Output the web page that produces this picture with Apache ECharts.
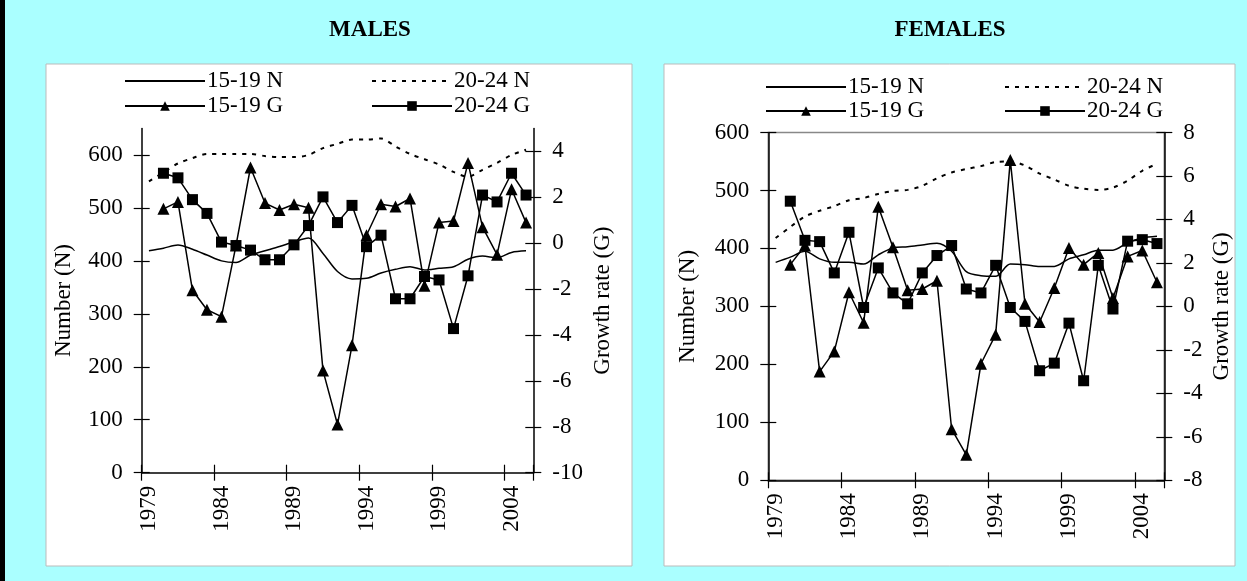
<!DOCTYPE html>
<html>
<head>
<meta charset="utf-8">
<script src="https://cdn.jsdelivr.net/npm/echarts@6/dist/echarts.min.js"></script>
<style>
  html, body { margin: 0; padding: 0; background: #aaffff; }
  #chart { width: 1247px; height: 581px; }
</style>
</head>
<body>
<div id="chart"></div>
<script>
// years on the x axis
var years = ['1979','1980','1981','1982','1983','1984','1985','1986','1987','1988','1989','1990','1991','1992',
    '1993','1994','1995','1996','1997','1998','1999','2000','2001','2002','2003','2004','2005'];

// males
var maleN1519 = [419,424,430,422,411,400,397,411,419,427,436,443,414,380,366,367,377,384,389,383,386,389,403,409,406,416,419];
var maleN2024 = [550,567,584,594,602,602,602,602,598,596,596,600,613,621,629,629,631,616,602,592,582,568,559,572,585,600,610];
var maleG1519 = ['-',1.5,1.8,-2.05,-2.9,-3.2,-0.1,3.3,1.75,1.45,1.7,1.55,-5.55,-7.9,-4.45,0.35,1.7,1.6,1.95,-1.85,0.9,0.97,3.5,0.7,-0.5,2.35,0.9];
var maleG2024 = ['-',3.05,2.85,1.9,1.3,0.05,-0.1,-0.3,-0.72,-0.72,-0.07,0.77,2.02,0.9,1.65,-0.15,0.35,-2.42,-2.42,-1.45,-1.6,-3.72,-1.42,2.1,1.8,3.05,2.1];

// females
var femaleN1519 = [376,385,395,382,376,376,373,389,401,403,406,409,395,360,353,352,373,372,369,369,382,389,397,397,410,418,421];
var femaleN2024 = [418,437,455,465,473,483,487,494,499,501,508,521,531,537,542,549,550,543,529,519,508,503,501,505,517,534,546];
var femaleG1519 = ['-',1.92,2.8,-3.0,-2.07,0.65,-0.75,4.58,2.72,0.74,0.8,1.18,-5.65,-6.83,-2.64,-1.3,6.73,0.12,-0.72,0.85,2.69,1.92,2.46,0.39,2.3,2.57,1.11];
var femaleG2024 = ['-',4.84,3.04,2.98,1.54,3.41,-0.05,1.77,0.62,0.12,1.54,2.34,2.8,0.8,0.62,1.89,-0.05,-0.69,-2.96,-2.61,-0.77,-3.42,1.89,-0.12,3.0,3.07,2.89];

// tick labels
var maleNTicks = [0,100,200,300,400,500,600];
var maleGTicks = [-10,-8,-6,-4,-2,0,2,4];

var FONT = 'Liberation Serif';
var chart = echarts.init(document.getElementById('chart'));

function xAx(gridIndex, main) {
    return {
        type: 'category', gridIndex: gridIndex, data: years, boundaryGap: true, position: 'bottom',
        axisLine: { show: main, onZero: false, lineStyle: { color: '#000', width: 1.5 } },
        axisTick: { show: true, inside: !main, interval: 4, length: 8, lineStyle: { color: '#000', width: 1.2 } },
        axisLabel: { show: main, interval: 4, rotate: 90, margin: 13, color: '#000', fontFamily: FONT, fontSize: 23 },
        splitLine: { show: false }
    };
}

function yAx(gridIndex, pos, min, max, interval, ticks, name, nameGap, main) {
    var ax = {
        type: 'value', gridIndex: gridIndex, position: pos, min: min, max: max, interval: interval,
        axisLine: { show: main, lineStyle: { color: '#000', width: 1.5 } },
        axisTick: { show: true, inside: !main, length: 8, lineStyle: { color: '#000', width: 1.2 } },
        axisLabel: { show: main, margin: 19, color: '#000', fontFamily: FONT, fontSize: 23 },
        splitLine: { show: false }
    };
    if (ticks) {
        ax.axisTick.customValues = ticks;
        ax.axisLabel.customValues = ticks;
    }
    if (main) {
        ax.name = name;
        ax.nameLocation = 'middle';
        ax.nameGap = nameGap;
        ax.nameTextStyle = { color: '#000', fontFamily: FONT, fontSize: 23 };
    }
    return ax;
}

function nLine(name, xi, yi, data, dotted) {
    return {
        name: name, type: 'line', xAxisIndex: xi, yAxisIndex: yi, data: data,
        symbol: 'none', smooth: 0.3,
        lineStyle: { color: '#000', width: dotted ? 2 : 1.5, type: dotted ? [4, 6] : 'solid' },
        itemStyle: { color: '#000' }
    };
}

function gLine(name, xi, yi, data, sym) {
    return {
        name: name, type: 'line', xAxisIndex: xi, yAxisIndex: yi, data: data,
        symbol: sym, symbolSize: sym === 'rect' ? 11 : 12, showSymbol: true, showAllSymbol: true,
        lineStyle: { color: '#000', width: 1.5 },
        itemStyle: { color: '#000' }
    };
}

function legend(left, top, gap, nName, gName) {
    return {
        left: left, top: top, orient: 'vertical', itemWidth: 80, itemHeight: 12, itemGap: gap,
        selectedMode: false,
        data: [{ name: nName, itemStyle: { opacity: 0 } }, gName],
        textStyle: { color: '#000', fontFamily: FONT, fontSize: 23, lineHeight: 24, padding: [0, 0, 0, -3] }
    };
}

var option = {
    backgroundColor: '#aaffff',
    animation: false,
    graphic: [
        { type: 'rect', shape: { x: 0, y: 0, width: 5, height: 581 }, style: { fill: '#000' } },
        { type: 'rect', shape: { x: 46, y: 64, width: 586, height: 502 }, style: { fill: '#fff', stroke: '#bbb', lineWidth: 1 }, z: -10 },
        { type: 'rect', shape: { x: 664, y: 64, width: 571, height: 502 }, style: { fill: '#fff', stroke: '#bbb', lineWidth: 1 }, z: -10 },
        { type: 'text', style: { x: 370, y: 30, text: 'MALES', textAlign: 'center', textVerticalAlign: 'middle', fill: '#000', font: 'bold 23px "Liberation Serif"' } },
        { type: 'text', style: { x: 950, y: 30, text: 'FEMALES', textAlign: 'center', textVerticalAlign: 'middle', fill: '#000', font: 'bold 23px "Liberation Serif"' } }
    ],
    legend: [
        legend(119, 64, 1, '15-19 N', '15-19 G'),
        legend(366, 64, 1, '20-24 N', '20-24 G'),
        legend(760, 70, 0, '15-19 N', '15-19 G'),
        legend(999, 70, 0, '20-24 N', '20-24 G')
    ],
    grid: [
        { left: 141.7, top: 128.5, width: 391.6, height: 344.2 },
        { left: 768.3, top: 132.5, width: 396, height: 347.8, show: true, borderColor: '#888', borderWidth: 1.5, backgroundColor: 'transparent' }
    ],
    xAxis: [xAx(0, true), xAx(0, false), xAx(1, true), xAx(1, false)],
    yAxis: [
        yAx(0, 'left', 0, 650, 100, maleNTicks, 'Number (N)', 66, true),
        yAx(0, 'right', -10, 5, 1, maleGTicks, 'Growth rate (G)', 58, true),
        yAx(0, 'left', 0, 650, 100, maleNTicks, '', 0, false),
        yAx(0, 'right', -10, 5, 1, maleGTicks, '', 0, false),
        yAx(1, 'left', 0, 600, 100, null, 'Number (N)', 69, true),
        yAx(1, 'right', -8, 8, 2, null, 'Growth rate (G)', 46, true),
        yAx(1, 'left', 0, 600, 100, null, '', 0, false),
        yAx(1, 'right', -8, 8, 2, null, '', 0, false)
    ],
    series: [
        nLine('15-19 N', 0, 0, maleN1519, false),
        nLine('20-24 N', 0, 0, maleN2024, true),
        gLine('15-19 G', 0, 1, maleG1519, 'triangle'),
        gLine('20-24 G', 0, 1, maleG2024, 'rect'),
        nLine('15-19 N', 2, 4, femaleN1519, false),
        nLine('20-24 N', 2, 4, femaleN2024, true),
        gLine('15-19 G', 2, 5, femaleG1519, 'triangle'),
        gLine('20-24 G', 2, 5, femaleG2024, 'rect')
    ]
};
chart.setOption(option);
</script>
</body>
</html>
